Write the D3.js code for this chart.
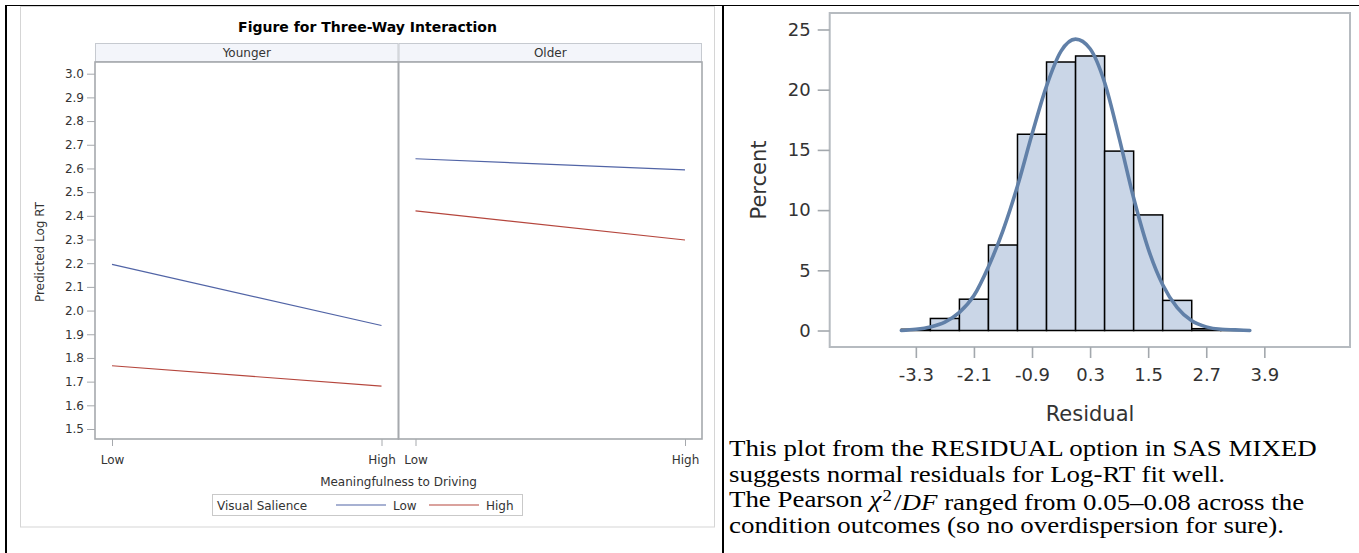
<!DOCTYPE html>
<html>
<head>
<meta charset="utf-8">
<script src="https://cdn.jsdelivr.net/npm/d3@7"></script>
<style>
  body { margin: 0; background: #fff; }
  svg { display: block; }
</style>
</head>
<body>
<div id="chart"></div>
<script>
const width = 1359;
const height = 553;

// left figure: predicted log RT by age group, meaningfulness and visual salience
const ageGroups = ["Younger", "Older"];
const meaningLevels = ["Low", "High"];
const salienceLevels = ["Low", "High"];
const predLowVS = { Younger: [2.195, 1.937], Older: [2.641, 2.594] };
const predHighVS = { Younger: [1.767, 1.681], Older: [2.421, 2.298] };
const logRtTicks = [1.5, 1.6, 1.7, 1.8, 1.9, 2.0, 2.1, 2.2, 2.3, 2.4, 2.5, 2.6, 2.7, 2.8, 2.9, 3.0];

// right figure: residual histogram with normal curve
const binCenters = [-3.3, -2.7, -2.1, -1.5, -0.9, -0.3, 0.3, 0.9, 1.5, 2.1, 2.7, 3.3];
const binPercent = [0.1, 1.0, 2.6, 7.1, 16.3, 22.3, 22.8, 14.9, 9.6, 2.5, 0.15, 0.05];
const binWidth = 0.6;
const residualTicks = [-3.3, -2.1, -0.9, 0.3, 1.5, 2.7, 3.9];
const percentTicks = [0, 5, 10, 15, 20, 25];
const curveResidual = [-3.6, -3.3, -3.0, -2.7, -2.4, -2.1, -1.8, -1.5, -1.2, -0.9, -0.6, -0.3, 0.0,
                       0.3, 0.6, 0.9, 1.2, 1.5, 1.8, 2.1, 2.4, 2.7, 3.0, 3.3, 3.6];
const curvePercent = [0.0, 0.1, 0.3, 0.7, 1.5, 2.9, 5.3, 8.3, 12.0, 16.3, 20.3, 23.2, 24.2,
                      23.4, 20.6, 16.0, 11.0, 6.8, 3.8, 1.9, 0.8, 0.3, 0.1, 0.05, 0.0];

const noteLines = [
  "This plot from the RESIDUAL option in SAS MIXED",
  "suggests normal residuals for Log-RT fit well.",
  null,
  "condition outcomes (so no overdispersion for sure)."
];

const sans = "'DejaVu Sans', sans-serif";
const textGray = "#333";

const svg = d3.select("#chart")
    .append("svg")
    .attr("width", width)
    .attr("height", height);

// table borders
svg.append("line").attr("x1", 5).attr("x2", width).attr("y1", 5.5).attr("y2", 5.5)
    .attr("stroke", "#000").attr("stroke-width", 1.2);
svg.append("line").attr("x1", 6).attr("x2", 6).attr("y1", 5).attr("y2", height)
    .attr("stroke", "#000").attr("stroke-width", 2);
svg.append("line").attr("x1", 723).attr("x2", 723).attr("y1", 5).attr("y2", height)
    .attr("stroke", "#000").attr("stroke-width", 2);

/* ---------- left: three-way interaction ---------- */
const left = svg.append("g").style("font-family", sans);

left.append("rect")
    .attr("x", 20.5).attr("y", 6.5).attr("width", 694).attr("height", 520.5)
    .attr("fill", "none").attr("stroke", "#d5d5d5");

left.append("text")
    .attr("x", 367.5).attr("y", 32)
    .attr("text-anchor", "middle")
    .style("font-weight", "bold").style("font-size", "14px").attr("fill", "#000")
    .text("Figure for Three-Way Interaction");

const panelTop = 62, panelBottom = 439, stripTop = 43;

const panelScale = d3.scaleBand().domain(ageGroups).range([95, 702]);
const yPred = d3.scaleLinear().domain([1.5, 3.0]).range([429, 73.7]);
const seriesColor = d3.scaleOrdinal().domain(salienceLevels).range(["#5164a6", "#b5463d"]);

ageGroups.forEach(age => {
    const x0 = panelScale(age), w = panelScale.bandwidth();
    const xm = d3.scalePoint().domain(meaningLevels).range([x0 + 17, x0 + w - 17]);

    // strip header
    left.append("rect")
        .attr("x", x0 + 0.5).attr("y", stripTop + 0.5).attr("width", w - 1).attr("height", panelTop - stripTop - 1)
        .attr("fill", "#f3f5fa").attr("stroke", "#c6cad0");
    left.append("text")
        .attr("x", x0 + w / 2).attr("y", 57)
        .attr("text-anchor", "middle").style("font-size", "12px").attr("fill", textGray)
        .text(age);

    // x axis
    const xAxis = left.append("g")
        .attr("transform", `translate(0,${panelBottom})`)
        .call(d3.axisBottom(xm).tickSize(7).tickPadding(9));
    xAxis.select(".domain").remove();
    xAxis.selectAll("line").attr("stroke", "#a6a9ad");
    xAxis.selectAll("text").style("font-size", "12px").style("font-family", sans).attr("fill", textGray);

    // lines
    const line = d3.line().x((d, i) => xm(meaningLevels[i])).y(d => yPred(d));
    left.append("path").datum(predLowVS[age])
        .attr("d", line).attr("fill", "none")
        .attr("stroke", seriesColor("Low")).attr("stroke-width", 1.2);
    left.append("path").datum(predHighVS[age])
        .attr("d", line).attr("fill", "none")
        .attr("stroke", seriesColor("High")).attr("stroke-width", 1.2);

    // panel frame
    left.append("rect")
        .attr("x", x0).attr("y", panelTop).attr("width", w).attr("height", panelBottom - panelTop)
        .attr("fill", "none").attr("stroke", "#a6a9ad").attr("stroke-width", 1.6);
});

const yAxis = left.append("g")
    .attr("transform", "translate(95,0)")
    .call(d3.axisLeft(yPred).tickValues(logRtTicks).tickSize(8).tickPadding(3).tickFormat(d3.format(".1f")));
yAxis.select(".domain").remove();
yAxis.selectAll("line").attr("stroke", "#a6a9ad");
yAxis.selectAll("text").style("font-size", "12px").style("font-family", sans).attr("fill", textGray);

left.append("text")
    .attr("transform", "translate(44,252) rotate(-90)")
    .attr("text-anchor", "middle").style("font-size", "12px").attr("fill", textGray)
    .text("Predicted Log RT");

left.append("text")
    .attr("x", 398.5).attr("y", 486)
    .attr("text-anchor", "middle").style("font-size", "12px").attr("fill", textGray)
    .text("Meaningfulness to Driving");

// legend
const legend = left.append("g");
legend.append("rect")
    .attr("x", 212.5).attr("y", 494.5).attr("width", 310).attr("height", 21)
    .attr("fill", "#fff").attr("stroke", "#c9c9c9");
legend.append("text")
    .attr("x", 217).attr("y", 509.5).style("font-size", "12px").attr("fill", textGray)
    .text("Visual Salience");
const legendX = d3.scaleOrdinal().domain(salienceLevels).range([336, 429]);
salienceLevels.forEach(s => {
    const lx = legendX(s);
    legend.append("line")
        .attr("x1", lx).attr("x2", lx + 50).attr("y1", 505).attr("y2", 505)
        .attr("stroke", seriesColor(s)).attr("stroke-width", 1.2);
    legend.append("text")
        .attr("x", lx + 57).attr("y", 509.5).style("font-size", "12px").attr("fill", textGray)
        .text(s);
});

/* ---------- right: residual histogram ---------- */
const right = svg.append("g").style("font-family", sans);

const xHist = d3.scaleLinear().domain([-5.08, 5.67]).range([829.7, 1350]);
const yHist = d3.scaleLinear().domain([-1.37, 26.37]).range([347, 13]);

right.selectAll(".bar")
    .data(binCenters)
    .enter()
    .append("rect")
    .attr("class", "bar")
    .attr("x", d => xHist(d - binWidth / 2))
    .attr("width", d => xHist(d + binWidth / 2) - xHist(d - binWidth / 2))
    .attr("y", (d, i) => yHist(binPercent[i]))
    .attr("height", (d, i) => yHist(0) - yHist(binPercent[i]))
    .attr("fill", "#cad6e7")
    .attr("stroke", "#000")
    .attr("stroke-width", 1.5);

const normalLine = d3.line()
    .x((d, i) => xHist(d))
    .y((d, i) => yHist(curvePercent[i]))
    .curve(d3.curveMonotoneX);

right.append("path")
    .datum(curveResidual)
    .attr("d", normalLine)
    .attr("fill", "none")
    .attr("stroke", "#6180a8")
    .attr("stroke-width", 3.6)
    .attr("stroke-linecap", "round");

right.append("rect")
    .attr("x", 829.7).attr("y", 13).attr("width", 1350 - 829.7).attr("height", 347 - 13)
    .attr("fill", "none").attr("stroke", "#b6bbc0").attr("stroke-width", 2);

const xAxisHist = right.append("g")
    .attr("transform", "translate(0,347)")
    .call(d3.axisBottom(xHist).tickValues(residualTicks).tickSize(11).tickPadding(10).tickFormat(d => d.toFixed(1)));
xAxisHist.select(".domain").remove();
xAxisHist.selectAll("line").attr("stroke", "#a3a8ad").attr("stroke-width", 1.6);
xAxisHist.selectAll("text").style("font-size", "18px").style("font-family", sans).attr("fill", textGray);

const yAxisHist = right.append("g")
    .attr("transform", "translate(829.7,0)")
    .call(d3.axisLeft(yHist).tickValues(percentTicks).tickSize(12).tickPadding(7));
yAxisHist.select(".domain").remove();
yAxisHist.selectAll("line").attr("stroke", "#a3a8ad").attr("stroke-width", 1.6);
yAxisHist.selectAll("text").style("font-size", "18px").style("font-family", sans).attr("fill", textGray);

right.append("text")
    .attr("transform", "translate(766,180) rotate(-90)")
    .attr("text-anchor", "middle").style("font-size", "21px").attr("fill", textGray)
    .text("Percent");

right.append("text")
    .attr("x", 1090).attr("y", 421)
    .attr("text-anchor", "middle").style("font-size", "21px").attr("fill", textGray)
    .text("Residual");

/* ---------- note below the histogram ---------- */
const note = svg.append("g")
    .style("font-family", "'Liberation Serif', 'Times New Roman', serif")
    .style("font-size", "23px")
    .attr("fill", "#000");
const lineY = d3.scaleLinear().domain([0, 3]).range([456, 533]);
const stretchX = 1.17;

noteLines.forEach((t, i) => {
    const txt = note.append("text")
        .attr("transform", `translate(729,${lineY(i)}) scale(${stretchX},1)`);
    if (t !== null) {
        txt.text(t);
    } else {
        txt.append("tspan").text("The Pearson ");
        txt.append("tspan").style("font-style", "italic").text("\u03C7");
        txt.append("tspan").attr("dy", "-0.42em").attr("dx", "1").style("font-size", "16px").text("2");
        txt.append("tspan").attr("dy", "0.42em").attr("dx", "2").text("/");
        txt.append("tspan").style("font-style", "italic").text("DF");
        txt.append("tspan").text(" ranged from 0.05\u20130.08 across the");
    }
});
</script>
</body>
</html>
